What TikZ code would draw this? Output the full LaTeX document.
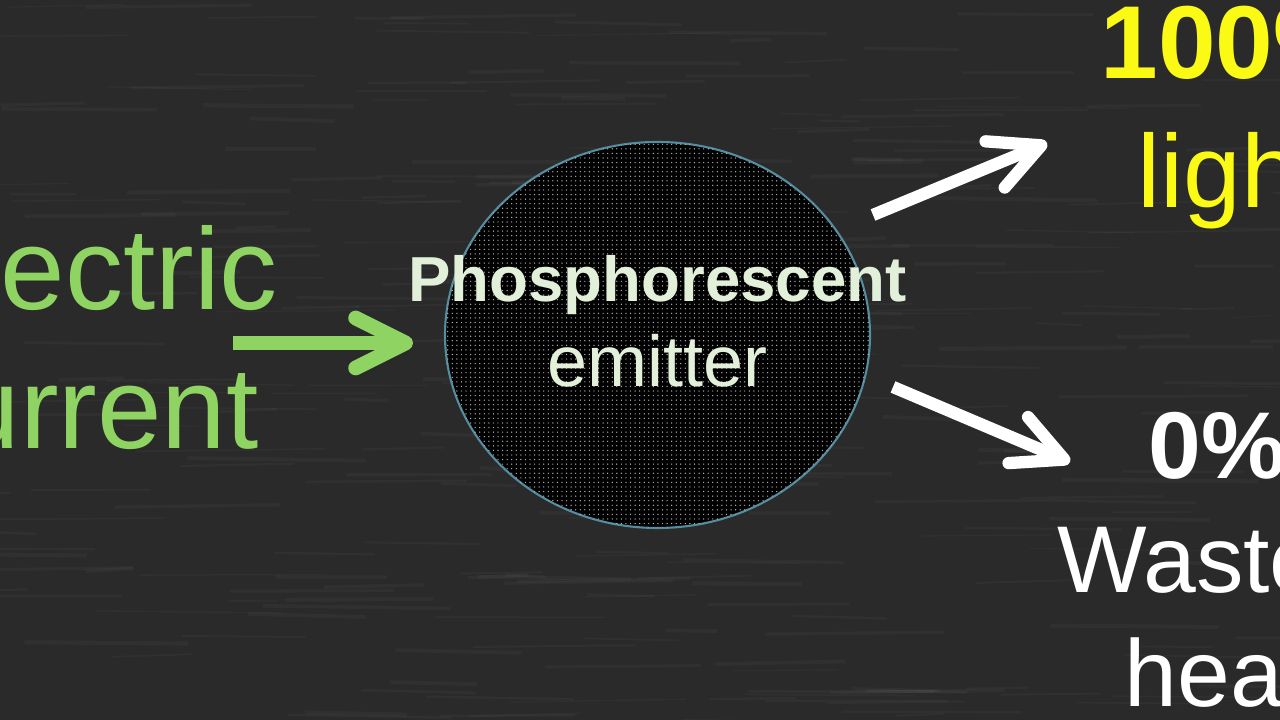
\documentclass[tikz,border=0pt]{standalone}
\usepackage{fontspec}
\setmainfont{Liberation Sans}
\usetikzlibrary{positioning,arrows.meta,shapes.geometric,patterns.meta}
\definecolor{board}{RGB}{42,42,42}
\definecolor{chalkgreen}{RGB}{143,212,98}
\definecolor{palegreen}{RGB}{226,240,217}
\definecolor{lightyellow}{RGB}{250,250,20}
\definecolor{rimblue}{RGB}{84,140,160}

\begin{document}
\begin{tikzpicture}[>={Straight Barb[length=5mm,width=5mm,round]},
   every node/.style={inner sep=0pt}]
  \useasboundingbox (0,0) rectangle (12.8,7.2);
  \clip (0,0) rectangle (12.8,7.2);
  % chalkboard
  \fill[board] (0,0) rectangle (12.8,7.2);
  \pgfmathsetseed{11}
  \foreach \i in {1,...,300}
    \draw[white,opacity=0.03,line width=0.3pt+rnd*0.9pt]
      (rnd*13.4-0.6,rnd*7.2) -- ++(0.4+rnd*1.6,rnd*0.06-0.03);

  \node (emit) [ellipse,minimum width=4.25cm,minimum height=3.86cm,
     fill=black,draw=rimblue,line width=0.6pt,
     postaction={pattern={Dots[distance=1.3pt,radius=0.2pt]},pattern color=gray!60}]
     at (6.575,3.85) {};
  \node (phos) [anchor=base,text=palegreen,
     font=\bfseries\fontsize{18.1}{21}\selectfont] at (6.575,4.18) {Phosphorescent};
  \node (emtr) [anchor=base,text=palegreen,font=\fontsize{20.5}{24}\selectfont]
     at ([yshift=-0.85cm]phos.base) {emitter};

  \node (curr) [anchor=north west,align=left,text=chalkgreen,
     font=\fontsize{33}{39.5}\selectfont] at (-1.03,4.95) {Electric\\current};
  \node (light) [anchor=north,align=center,text=lightyellow,
     font=\fontsize{29.5}{36.7}\selectfont] at (12.33,7.15) {\textbf{100\%}\\light};
  \node (heat) [anchor=north,align=center,text=white,
     font=\fontsize{27}{32.4}\selectfont] at (12.17,3.08)
     {\textbf{0\%}\\\hbox{Waste\kern0.54cm}\\heat};

  \coordinate (gA) at (2.33,3.77);
  \coordinate (gB) at (4.13,3.77);
  \coordinate (uA) at (8.73,5.05);
  \coordinate (uB) at (10.47,5.77);
  \coordinate (dA) at (8.93,3.33);
  \coordinate (dB) at (10.70,2.58);
  \draw[->,chalkgreen,line width=4.2pt] (gA) -- (gB);
  \draw[->,white,line width=3.5pt] (uA) -- (uB);
  \draw[->,white,line width=3.5pt] (dA) -- (dB);
\end{tikzpicture}
\end{document}
